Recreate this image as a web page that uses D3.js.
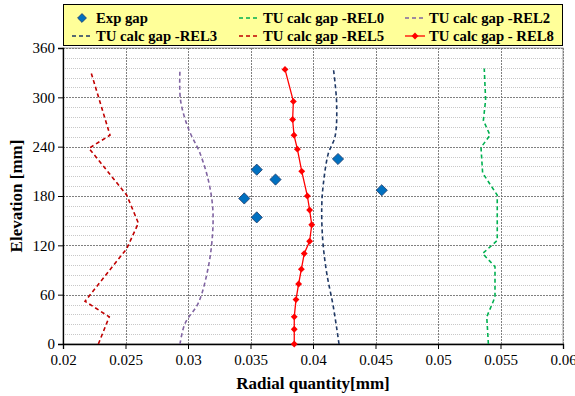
<!DOCTYPE html>
<html>
<head>
<meta charset="utf-8">
<script src="https://cdn.jsdelivr.net/npm/d3@7"></script>
<style>
  body { margin: 0; background: #fff; }
  svg text { font-family: 'Liberation Serif', 'Times New Roman', Times, 'DejaVu Serif', serif !important; }
</style>
</head>
<body>
<svg id="chart" width="575" height="396"></svg>
<script>
// ---- data (radial quantity [mm], elevation [mm]) ----
const expGap = [[0.0355, 212], [0.0370, 200], [0.0345, 177], [0.0355, 154], [0.0420, 225], [0.0455, 187]];

const rel0 = [[0.05403, 0], [0.0539, 33], [0.05456, 57], [0.05456, 94], [0.05357, 110], [0.05474, 126],
  [0.05474, 181], [0.05357, 208], [0.05344, 239], [0.05416, 254], [0.05363, 272], [0.05381, 297], [0.0537, 335]];

const rel2 = [[0.02936, 0], [0.02976, 25], [0.03083, 50], [0.03163, 94], [0.03197, 135], [0.03197, 167],
  [0.03163, 199], [0.03096, 232], [0.03003, 262], [0.0294, 297], [0.02936, 335]];

const rel3 = [[0.04208, 0], [0.04163, 45], [0.0411, 86], [0.04078, 126], [0.0407, 167], [0.04083, 195],
  [0.04123, 232], [0.04176, 252], [0.04189, 293], [0.04163, 335]];

const rel5 = [[0.02283, 0], [0.0237, 33], [0.02176, 52], [0.0251, 116], [0.02603, 147], [0.0251, 181],
  [0.02208, 238], [0.02376, 254], [0.02221, 332]];

const rel8 = [[0.0385, 0], [0.0385, 18], [0.0385, 33], [0.03864, 54], [0.03885, 73], [0.03907, 91],
  [0.0393, 110], [0.03973, 125], [0.0399, 145], [0.03973, 163], [0.03955, 180], [0.0391, 210],
  [0.03875, 237], [0.03848, 254], [0.03837, 273], [0.03843, 295], [0.03776, 334]];

const xTicks = [0.02, 0.025, 0.03, 0.035, 0.04, 0.045, 0.05, 0.055, 0.06];
const yTicks = [0, 60, 120, 180, 240, 300, 360];

// ---- layout ----
const plot = { left: 63, right: 563, top: 48, bottom: 344 };
const serif = "'Liberation Serif', 'Times New Roman', Times, 'DejaVu Serif', serif";
const svg = d3.select('#chart').attr('font-family', serif);

const x = d3.scaleLinear().domain([0.02, 0.06]).range([plot.left, plot.right]);
const y = d3.scaleLinear().domain([0, 360]).range([plot.bottom, plot.top]);

// plot background + border
svg.append('rect')
  .attr('x', plot.left).attr('y', plot.top)
  .attr('width', plot.right - plot.left).attr('height', plot.bottom - plot.top)
  .attr('fill', '#fff').attr('stroke', '#a0a0a0').attr('stroke-width', 1);

// minor horizontal gridlines
svg.append('g').selectAll('line')
  .data(d3.range(0, 361, 12).filter(v => v % 60 !== 0))
  .join('line')
  .attr('x1', plot.left).attr('x2', plot.right)
  .attr('y1', d => Math.round(y(d)) + 0.5).attr('y2', d => Math.round(y(d)) + 0.5)
  .attr('stroke', '#c8c8c8').attr('stroke-dasharray', '1,1');

// major gridlines
svg.append('g').selectAll('line')
  .data(yTicks.slice(1))
  .join('line')
  .attr('x1', plot.left).attr('x2', plot.right)
  .attr('y1', d => Math.round(y(d)) + 0.5).attr('y2', d => Math.round(y(d)) + 0.5)
  .attr('stroke', '#808080').attr('stroke-dasharray', '2,1');

svg.append('g').selectAll('line')
  .data(xTicks.slice(1))
  .join('line')
  .attr('y1', plot.top).attr('y2', plot.bottom)
  .attr('x1', d => Math.round(x(d)) + 0.5).attr('x2', d => Math.round(x(d)) + 0.5)
  .attr('stroke', '#808080').attr('stroke-dasharray', '2,1');

// axes
const xAxis = d3.axisBottom(x).tickValues(xTicks).tickSize(5).tickFormat(d => String(+d.toFixed(3)));
const yAxis = d3.axisLeft(y).tickValues(yTicks).tickSize(5);

const xAxisG = svg.append('g').attr('transform', `translate(0,${plot.bottom})`).call(xAxis);
const yAxisG = svg.append('g').attr('transform', `translate(${plot.left},0)`).call(yAxis);
[xAxisG, yAxisG].forEach(g => {
  g.attr('font-family', serif).attr('font-size', 15);
  g.select('.domain').attr('stroke', '#000').attr('stroke-width', 1.3);
  g.selectAll('.tick line').attr('stroke', '#000');
  g.selectAll('.tick text').attr('fill', '#000');
});
xAxisG.selectAll('.tick text').attr('dy', '0.85em');

// axis titles
svg.append('text')
  .attr('x', (plot.left + plot.right) / 2).attr('y', 389)
  .attr('text-anchor', 'middle')
  .attr('font-size', 17).attr('font-weight', 'bold')
  .text('Radial quantity[mm]');

svg.append('text')
  .attr('transform', `translate(22,${(plot.top + plot.bottom) / 2}) rotate(-90)`)
  .attr('text-anchor', 'middle')
  .attr('font-size', 17).attr('font-weight', 'bold')
  .text('Elevation [mm]');

// series
const line = d3.line().x(d => x(d[0])).y(d => y(d[1]));
const smooth = d3.line().x(d => x(d[0])).y(d => y(d[1])).curve(d3.curveCatmullRom);

const series = [
  { data: rel0, color: '#00B050', gen: line },
  { data: rel2, color: '#8064A2', gen: smooth },
  { data: rel3, color: '#1F3864', gen: smooth },
  { data: rel5, color: '#C00000', gen: line }
];

series.forEach(s => {
  svg.append('path')
    .attr('d', s.gen(s.data))
    .attr('fill', 'none')
    .attr('stroke', s.color)
    .attr('stroke-width', 1.6)
    .attr('stroke-dasharray', '4,3');
});

svg.append('path')
  .attr('d', line(rel8))
  .attr('fill', 'none')
  .attr('stroke', '#FF0000')
  .attr('stroke-width', 1.3);

const diamond = d3.symbol().type(d3.symbolDiamond2);

svg.append('g').selectAll('path')
  .data(rel8)
  .join('path')
  .attr('transform', d => `translate(${x(d[0])},${y(d[1])})`)
  .attr('d', diamond.size(30)())
  .attr('fill', '#FF0000');

svg.append('g').selectAll('path')
  .data(expGap)
  .join('path')
  .attr('transform', d => `translate(${x(d[0])},${y(d[1])})`)
  .attr('d', diamond.size(80)())
  .attr('fill', '#0070C0')
  .attr('stroke', '#1F3864')
  .attr('stroke-width', 0.8);

// legend
const legendItems = [
  { label: 'Exp gap', type: 'diamond', color: '#0070C0', col: 0, row: 0 },
  { label: 'TU calc gap -REL0', type: 'dash', color: '#00B050', col: 1, row: 0 },
  { label: 'TU calc gap -REL2', type: 'dash', color: '#8064A2', col: 2, row: 0 },
  { label: 'TU calc gap -REL3', type: 'dash', color: '#1F3864', col: 0, row: 1 },
  { label: 'TU calc gap -REL5', type: 'dash', color: '#C00000', col: 1, row: 1 },
  { label: 'TU calc gap - REL8', type: 'marker', color: '#FF0000', col: 2, row: 1 }
];
const colX = [96, 263, 429];
const rowY = [18, 36];

svg.append('rect')
  .attr('x', 63.5).attr('y', 4.5)
  .attr('width', 499).attr('height', 41)
  .attr('fill', '#FFFF99').attr('stroke', '#000').attr('stroke-width', 1);

const leg = svg.append('g').selectAll('g')
  .data(legendItems)
  .join('g')
  .attr('transform', d => `translate(${colX[d.col]},${rowY[d.row]})`);

leg.filter(d => d.type !== 'diamond').append('line')
  .attr('x1', -24).attr('x2', -4).attr('y1', 0).attr('y2', 0)
  .attr('stroke', d => d.color)
  .attr('stroke-width', d => d.type === 'dash' ? 1.6 : 1.3)
  .attr('stroke-dasharray', d => d.type === 'dash' ? '4,3' : null);

leg.filter(d => d.type === 'marker').append('path')
  .attr('transform', 'translate(-14,0)')
  .attr('d', diamond.size(30)())
  .attr('fill', d => d.color);

leg.filter(d => d.type === 'diamond').append('path')
  .attr('transform', 'translate(-14,0)')
  .attr('d', diamond.size(50)())
  .attr('fill', d => d.color)
  .attr('stroke', '#1F3864').attr('stroke-width', 0.8);

leg.append('text')
  .attr('x', 0).attr('y', 0).attr('dy', '0.35em')
  .attr('font-size', 14.7).attr('font-weight', 'bold')
  .text(d => d.label);
</script>
</body>
</html>
